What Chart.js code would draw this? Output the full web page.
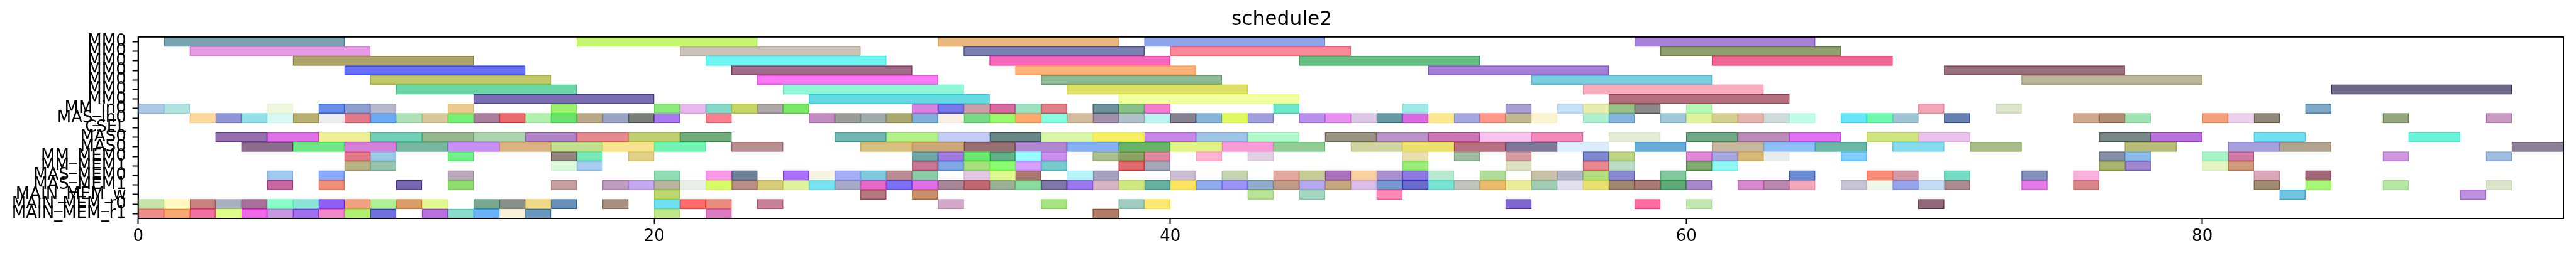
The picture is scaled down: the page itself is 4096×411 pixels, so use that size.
<!DOCTYPE html>
<html>
<head>
<meta charset="utf-8">
<script src="https://cdn.jsdelivr.net/npm/chart.js@4.4.1/dist/chart.umd.min.js"></script>
<style>
  html, body { margin: 0; padding: 0; background: #fff; }
  #wrap { width: 4096px; height: 411px; }
</style>
</head>
<body>
<div id="wrap"><canvas id="myChart"></canvas></div>
<script>
'use strict';

let rowLabels = ['MM0', 'MM0', 'MM0', 'MM0', 'MM0', 'MM0', 'MM0', 'MM_in0', 'MAS_in0', 'CSEL',
    'MAS0', 'MAS0', 'MM_MEM0', 'MM_MEM1', 'MAS_MEM0', 'MAS_MEM1', 'MAIN_MEM_w', 'MAIN_MEM_r0', 'MAIN_MEM_r1'];
// how long one task lasts on each row
let taskLength = [7, 7, 7, 7, 7, 7, 7, 1, 1, 1, 2, 2, 1, 1, 1, 1, 1, 1, 1];
let xTicks = [0, 20, 40, 60, 80];
let xMax = 94;

// start times of the tasks, one array per row
let mm0A = [1, 17, 31, 39, 58];
let mm0B = [2, 21, 32, 40, 59];
let mm0C = [6, 22, 33, 45, 61];
let mm0D = [8, 23, 34, 50, 70];
let mm0E = [9, 24, 35, 54, 73];
let mm0F = [10, 25, 36, 56, 85];
let mm0G = [13, 26, 38, 57];
let mmIn0 = [0, 1, 5, 7, 8, 9, 12, 16, 20, 21, 22, 23, 24, 25, 30, 31, 32, 33, 34, 35, 37, 38, 39,
    44, 49, 53, 55, 56, 57, 58, 60, 69, 72, 84];
let masIn0 = [2, 3, 4, 5, 6, 7, 8, 9, 10, 11, 12, 13, 14, 15, 16, 17, 18, 19, 20, 22, 26, 27, 28, 29,
    30, 31, 32, 33, 34, 35, 36, 37, 38, 39, 40, 41, 42, 43, 45, 46, 47, 48, 49, 50, 51, 52, 53, 54,
    56, 57, 59, 60, 61, 62, 63, 64, 66, 67, 68, 70, 75, 76, 77, 80, 81, 82, 87, 91];
let csel = [];
let mas0A = [3, 5, 7, 9, 11, 13, 15, 17, 19, 21, 27, 29, 31, 33, 35, 37, 39, 41, 43, 46, 48, 50, 52,
    54, 57, 60, 62, 64, 67, 69, 76, 78, 82, 88];
let mas0B = [4, 6, 8, 10, 12, 14, 16, 18, 20, 23, 28, 30, 32, 34, 36, 38, 40, 42, 44, 47, 49, 51, 53,
    55, 58, 61, 63, 65, 68, 71, 77, 81, 83, 92];
let mmMem0 = [8, 9, 12, 16, 17, 19, 30, 31, 32, 33, 34, 35, 37, 38, 39, 41, 43, 49, 51, 53, 56, 57,
    60, 61, 62, 63, 66, 76, 77, 80, 81, 87, 91];
let mmMem1 = [8, 9, 16, 17, 30, 31, 32, 33, 34, 35, 38, 39, 49, 53, 56, 57, 60, 61, 76, 77, 80, 81];
let masMem0 = [5, 7, 12, 20, 22, 23, 25, 26, 27, 28, 29, 30, 32, 33, 34, 36, 37, 40, 42, 44, 45, 46,
    47, 48, 49, 50, 52, 54, 55, 56, 57, 59, 64, 67, 68, 70, 73, 75, 82, 84];
let masMem1 = [5, 7, 10, 12, 16, 18, 19, 20, 21, 22, 23, 24, 25, 26, 27, 28, 29, 30, 31, 32, 33, 34,
    35, 36, 37, 38, 39, 40, 41, 42, 43, 44, 45, 46, 47, 48, 49, 50, 51, 52, 53, 54, 55, 56, 57, 58,
    59, 60, 62, 63, 64, 66, 67, 68, 69, 70, 73, 75, 82, 84, 87, 91];
let mainMemW = [20, 28, 30, 43, 45, 48, 83, 90];
let mainMemR0 = [0, 1, 2, 3, 4, 5, 6, 7, 8, 9, 10, 11, 13, 14, 15, 16, 18, 20, 21, 22, 24, 31, 35, 38,
    39, 53, 58, 60, 69];
let mainMemR1 = [0, 1, 2, 3, 4, 5, 6, 7, 8, 9, 11, 12, 13, 14, 15, 20, 22, 37];

let startTimes = [mm0A, mm0B, mm0C, mm0D, mm0E, mm0F, mm0G, mmIn0, masIn0, csel, mas0A, mas0B,
    mmMem0, mmMem1, masMem0, masMem1, mainMemW, mainMemR0, mainMemR1];

// random looking box colours, same order as the start times
let taskColors = [
    ['#7aa3b0', '#c6f570', '#e8b880', '#90a4ea', '#a582d8'],
    ['#e89ce6', '#cbc2b8', '#7a80b0', '#ff8898', '#909e70'],
    ['#ada46c', '#70f5f2', '#f668bc', '#66be82', '#ef6894'],
    ['#6670f5', '#a06c8a', '#ffb27a', '#a57ed8', '#98707a'],
    ['#c2c96a', '#ff78f8', '#8fba96', '#7ad0e0', '#bdb89c'],
    ['#6dd6a6', '#90f7d8', '#dde066', '#f8aebf', '#706888'],
    ['#7a6db0', '#66dae3', '#f2ffa0', '#b2707e'],
    ['#b0c8e8', '#b0e2e0', '#eef8e0', '#6a8ee8', '#8fa0d0', '#b8b8cc', '#ebca90', '#9cf270', '#8de87e',
        '#e8b8f0', '#88d6c6', '#c6d468', '#aea8a8', '#7ce66a', '#d882e0', '#7878e8', '#caa0a8', '#d46ca0',
        '#9ee0c0', '#e08088', '#6e9098', '#88c088', '#f27ed0', '#6ee6c8', '#a0e8e6', '#a8a0d0', '#c8e0f6',
        '#e8ecb0', '#98c088', '#8c8888', '#b8f8b8', '#f0a8b8', '#dce6cc', '#80a8c8'],
    ['#ffd8a0', '#8f96d6', '#94e0e8', '#d8f8f4', '#b8b070', '#ececf0', '#e07a88', '#6aaaf0', '#b0e0b8',
        '#d8c89c', '#78f078', '#a8809c', '#e86a6e', '#b2f0b0', '#6ae070', '#b8aa88', '#98a4c4', '#7a8078',
        '#a878f0', '#f8808e', '#c08cc0', '#9a9c98', '#a0acac', '#a8a870', '#80b0d8', '#f8f0e4', '#78da88',
        '#9af870', '#ffa870', '#88ffe0', '#d4bca0', '#a090a8', '#b0c0c8', '#bcf4f0', '#848090', '#88b4d8',
        '#e0f860', '#a09edc', '#b890ea', '#e690f0', '#dcc8e4', '#6898a4', '#d86ae0', '#fce890', '#a4a8de',
        '#ff9888', '#c0b890', '#fbf4d0', '#aef0d0', '#88b4e0', '#a0c8d8', '#e0f4a0', '#d4d090', '#e4b4ae',
        '#d0dcdc', '#c0fce8', '#6ae4f8', '#70f8b0', '#a0c4d4', '#6880b0', '#d0a890', '#b08c74', '#a0e4b4',
        '#f4a078', '#ecd0ec', '#908878', '#94a880', '#c89cc0'],
    [],
    ['#9470b0', '#e070e8', '#eef098', '#70d0b8', '#98b890', '#acd4b0', '#b084c8', '#e88890', '#c0d070',
        '#70ac7c', '#70b8b4', '#b4f088', '#c4ccf8', '#688888', '#d8f8a8', '#f8f060', '#c888e8', '#a0c4e8',
        '#b0f8c8', '#989480', '#b894c8', '#cc74b4', '#f8c4f0', '#f488b8', '#e4ecd4', '#70a888', '#bc8cb8',
        '#e070f4', '#d0e480', '#ecc0ec', '#788888', '#b870dc', '#70e0f0', '#68f4d8'],
    ['#8c6c8c', '#70e888', '#d480d8', '#78b8a0', '#c890f4', '#dcb484', '#c0e090', '#f8e490', '#74f4b4',
        '#b89090', '#d8c080', '#cca878', '#987074', '#b088d0', '#88b0f4', '#68b468', '#e0f488', '#f89cd8',
        '#90cc94', '#d0d4a0', '#ece070', '#b87080', '#807898', '#dceefc', '#6aacd8', '#c8b8a0', '#90c0f8',
        '#6cb8a8', '#84dcec', '#a8bc88', '#b8bc78', '#a8a0dc', '#b0a490', '#8c8098'],
    ['#e07a88', '#9ccae4', '#70f088', '#948480', '#78e8b8', '#e0d088', '#70a8a8', '#a07ce0', '#6ae870',
        '#64b088', '#98fcfc', '#c890ec', '#a8c090', '#8ca468', '#e088a0', '#ffb4d4', '#e4d0e4', '#e8e0b0',
        '#a0bca0', '#d49ca0', '#8088d0', '#bcd484', '#e088d8', '#a8a8e0', '#d8b878', '#e8ecec', '#80ccfc',
        '#8890a8', '#8cbce8', '#a8f4c8', '#d07ca4', '#d098e0', '#a0bce0'],
    ['#b8b488', '#98c4b0', '#dcf8dc', '#a8ccf0', '#c87894', '#80a8e4', '#a8e080', '#8cfc70', '#d4a0fc',
        '#78cccc', '#e06c70', '#a4a8b8', '#98ec78', '#dce0c4', '#e88890', '#bcdcc8', '#80ac70', '#90f8f4',
        '#a8b470', '#a088d0', '#e4f4c4', '#d09c7c'],
    ['#a0c8f0', '#88a8f8', '#b8a8b8', '#90dcb4', '#f898e8', '#6c8098', '#a870f8', '#f8f4e4', '#a4acf4',
        '#7ccadc', '#b88c90', '#88cca8', '#e0c8e4', '#e0f890', '#a87870', '#b8f4f8', '#a4a0c0', '#c8bcd0',
        '#c4d4b0', '#e0a8a0', '#c4cc94', '#a870b8', '#f8d0a0', '#a890cc', '#8c78e0', '#b8e8d0', '#b0dc98',
        '#c8c0a8', '#b0b4c4', '#b0dc80', '#8888d0', '#80c89c', '#6a8cd0', '#f88c78', '#d098a4', '#74dcc4',
        '#8090b8', '#f8b0dc', '#d8a8b8', '#a06878'],
    ['#c868a0', '#f09078', '#7868b0', '#90dc70', '#c8a0a0', '#c09cc0', '#c4a8f0', '#b8b4a0', '#e8f0e8',
        '#d8fc68', '#b89088', '#d8cc78', '#e0f4a0', '#78e4f0', '#a8aac8', '#e868c8', '#7c70f4', '#e070e8',
        '#a88898', '#c06870', '#9cb098', '#88dca0', '#8078a8', '#9c78f0', '#d8b4c4', '#d0e880', '#68b0a0',
        '#fce460', '#90acec', '#9c94f8', '#90acc8', '#c09c88', '#b8a8f0', '#c4a880', '#dcbce8', '#7898d0',
        '#6c6ccc', '#78e4d4', '#c0c4bc', '#ecbc6c', '#ecec98', '#a0ccb4', '#e4e0f0', '#e8e070', '#a08870',
        '#a87c74', '#60ac78', '#a888c8', '#d888cc', '#b888b0', '#f4a8bc', '#c8c4d8', '#f0f8ec', '#98a4ec',
        '#c4dcf4', '#ac8c90', '#e47ce8', '#d88888', '#a08c70', '#a8f878', '#b8e8a8', '#dce4cc'],
    ['#bcd870', '#b87880', '#c8906c', '#b8e498', '#a4d8c0', '#ff88b4', '#70c4e0', '#c090e0'],
    ['#c8e4a8', '#fff8c0', '#c88080', '#a8b0c0', '#a87098', '#88ffc8', '#8ce4d4', '#9060f4', '#f0a080',
        '#b0f098', '#dc9c68', '#e0f890', '#78a890', '#889088', '#f0d888', '#6890b8', '#a89080', '#70e0f0',
        '#ff6c6c', '#e88c7c', '#c88098', '#d4a8c8', '#a8e480', '#a0ccc0', '#fce870', '#8068d0', '#ff6ca0',
        '#c0e8b0', '#906878'],
    ['#f08c8c', '#f8a870', '#f070a0', '#e0ff88', '#f068e8', '#c898e0', '#a070f0', '#f088c8', '#b0f070',
        '#7070e0', '#b870e0', '#88dcc8', '#68b0f8', '#f8f0d8', '#6898c0', '#c0e888', '#dc7cc0', '#b07c68']
];

// edge line is the same colour laid twice, so a bit darker
function edgeOf(hex) {
    let n = parseInt(hex.slice(1), 16);
    let c = [(n >> 16) & 255, (n >> 8) & 255, n & 255].map(v => Math.max(0, Math.min(255, Math.round(1.4 * v - 102))));
    return `rgb(${c.join(',')})`;
}

let slots = Math.max(...startTimes.map(r => r.length));
let datasets = [];
for (let k = 0; k < slots; k++) {
    let data = [];
    let fills = [];
    let edges = [];
    for (let r = 0; r < rowLabels.length; r++) {
        let s = startTimes[r][k];
        if (s === undefined) {
            data.push(null);
            fills.push('#ffffff');
            edges.push('#ffffff');
        } else {
            data.push([s, s + taskLength[r]]);
            fills.push(taskColors[r][k]);
            edges.push(edgeOf(taskColors[r][k]));
        }
    }
    datasets.push({
        data: data,
        backgroundColor: fills,
        borderColor: edges,
        borderWidth: 1.5,
        borderSkipped: false,
        barPercentage: 1,
        categoryPercentage: 1,
        grouped: false
    });
}

const frameBox = {
    id: 'frameBox',
    afterDraw(chart) {
        let a = chart.chartArea;
        let ctx = chart.ctx;
        ctx.save();
        ctx.strokeStyle = '#000';
        ctx.lineWidth = 2;
        ctx.strokeRect(a.left, a.top, a.right - a.left, a.bottom - a.top);
        ctx.restore();
    }
};

const font = 'DejaVu Sans';

let ctx = document.getElementById('myChart').getContext('2d');
let myChart = new Chart(ctx, {
    type: 'bar',
    data: {
        labels: rowLabels,
        datasets: datasets
    },
    options: {
        indexAxis: 'y',
        responsive: true,
        maintainAspectRatio: false,
        animation: false,
        devicePixelRatio: 1,
        layout: { padding: { left: 0, right: 20, top: 0, bottom: 0 } },
        plugins: {
            legend: { display: false },
            tooltip: { enabled: false },
            title: {
                display: true,
                text: 'schedule2',
                color: '#000',
                font: { family: font, size: 31.3, weight: 'normal', lineHeight: 1.2 },
                padding: { top: 13.3, bottom: 8 }
            }
        },
        scales: {
            x: {
                type: 'linear',
                position: 'bottom',
                min: 0,
                max: xMax,
                afterFit(scale) { scale.height = 63; },
                afterBuildTicks(scale) { scale.ticks = xTicks.map(v => ({ value: v })); },
                ticks: {
                    color: '#000',
                    font: { family: font, size: 26 },
                    padding: 5,
                    maxRotation: 0,
                    autoSkip: false
                },
                grid: {
                    drawOnChartArea: false,
                    drawTicks: true,
                    tickLength: 9,
                    tickWidth: 2,
                    tickColor: '#000'
                },
                border: { display: true, color: '#000', width: 2 }
            },
            y: {
                type: 'category',
                offset: true,
                afterFit(scale) { scale.width = 219.7; },
                ticks: {
                    color: '#000',
                    font: { family: font, size: 26 },
                    padding: 10,
                    autoSkip: false
                },
                grid: {
                    offset: false,
                    drawOnChartArea: false,
                    drawTicks: true,
                    tickLength: 9,
                    tickWidth: 2,
                    tickColor: '#000'
                },
                border: { display: true, color: '#000', width: 2 }
            }
        }
    },
    plugins: [frameBox]
});
</script>
</body>
</html>
